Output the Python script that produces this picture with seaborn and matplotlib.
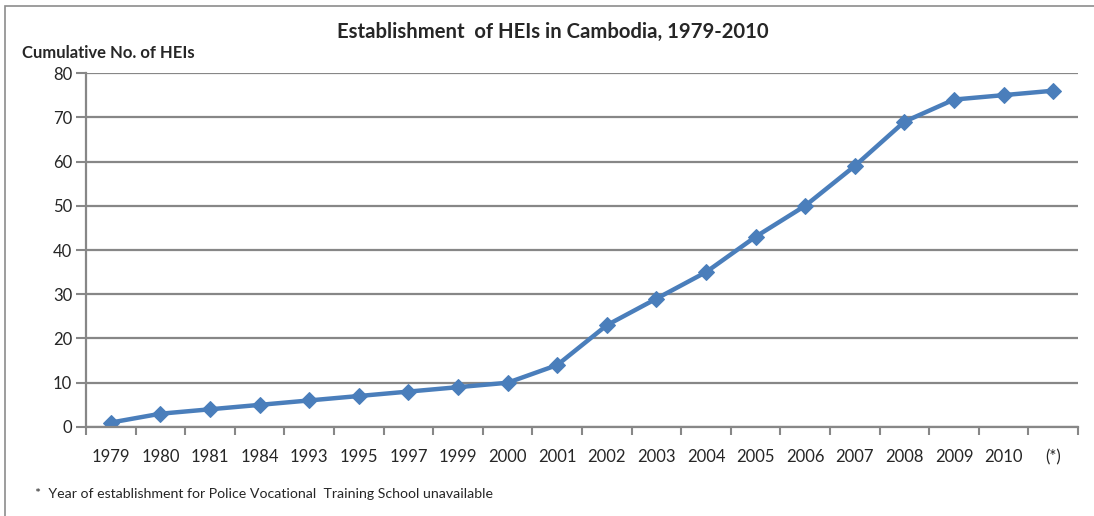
import pandas as pd
import matplotlib.pyplot as plt
import seaborn as sns
from matplotlib.patches import Rectangle

years = ['1979', '1980', '1981', '1984', '1993', '1995', '1997', '1999', '2000', '2001',
         '2002', '2003', '2004', '2005', '2006', '2007', '2008', '2009', '2010', '(*)']
cumulative = [1, 3, 4, 5, 6, 7, 8, 9, 10, 14, 23, 29, 35, 43, 50, 59, 69, 74, 75, 76]
y_ticks = [0, 10, 20, 30, 40, 50, 60, 70, 80]

df = pd.DataFrame({'year': years, 'heis': cumulative})

sns.set_style('white')
plt.rcParams['font.family'] = ['Lato', 'DejaVu Sans']

fig = plt.figure(figsize=(10.94, 5.16), dpi=100)
ax = fig.add_axes([0.0786, 0.1725, 0.9068, 0.686])

# frame around the whole chart, like the Excel chart area
fig.patches.append(Rectangle((0.005, -0.1), 1.2, 1.088, transform=fig.transFigure,
                             fill=False, edgecolor='#8c8c8c', linewidth=1.2))

sns.lineplot(data=df, x='year', y='heis', ax=ax, sort=False, color='#4a7ebb',
             linewidth=3.2, marker='D', markersize=8, markeredgecolor='#4a7ebb')

n = len(years)
ax.set_xlim(-0.5, n - 0.5)
ax.set_ylim(0, 80)
ax.set_yticks(y_ticks)
ax.yaxis.grid(True, color='#878787', linewidth=1.6)
ax.set_axisbelow(True)

# ticks between categories, labels at centres
ax.set_xticks([i - 0.5 for i in range(n + 1)])
ax.set_xticklabels([])
ax.set_xticks(range(n), minor=True)
ax.set_xticklabels(years, minor=True, fontsize=12)
ax.tick_params(axis='x', which='major', direction='out', length=6, width=1.5, color='#878787', bottom=True)
ax.tick_params(axis='x', which='minor', length=0, pad=16)
ax.tick_params(axis='y', direction='out', length=7, width=1.5, color='#878787', left=True, labelsize=12, pad=3)

for side in ['top', 'right']:
    ax.spines[side].set_visible(False)
for side in ['left', 'bottom']:
    ax.spines[side].set_color('#878787')
    ax.spines[side].set_linewidth(1.6)

ax.set_xlabel('')
ax.set_ylabel('')
fig.text(0.505, 0.938, 'Establishment  of HEIs in Cambodia, 1979-2010', ha='center', va='center',
         fontsize=14.6, fontweight='bold')
fig.text(0.020, 0.897, 'Cumulative No. of HEIs', ha='left', va='center', fontsize=12, fontweight='bold')
fig.text(0.032, 0.043, '*  Year of establishment for Police Vocational  Training School unavailable',
         ha='left', va='center', fontsize=10.2)

plt.savefig('out.png', dpi=100)
plt.close()
